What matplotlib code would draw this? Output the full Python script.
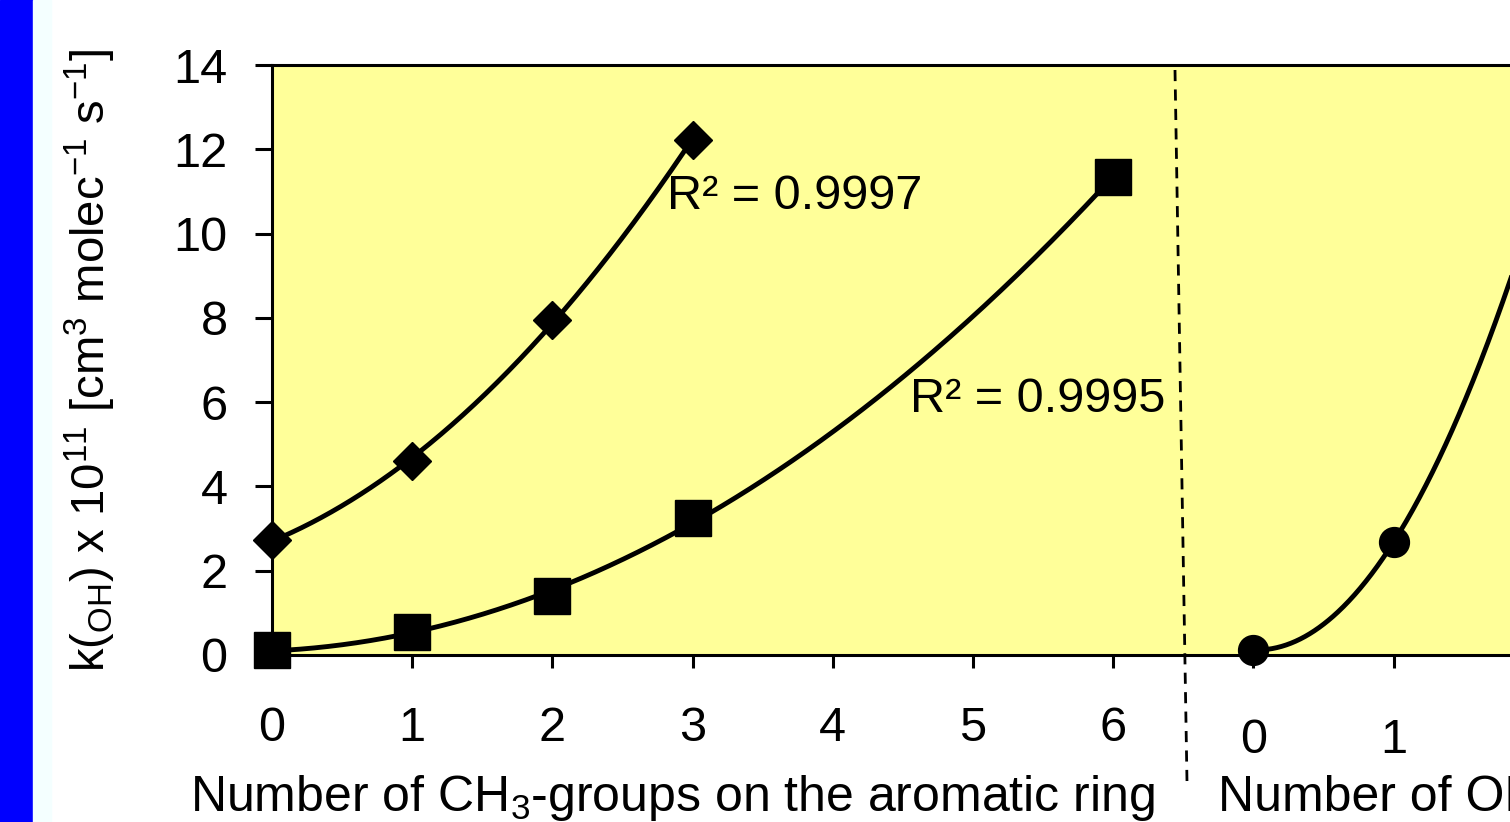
import numpy as np
import matplotlib
matplotlib.use("Agg")
import matplotlib.pyplot as plt
from matplotlib.transforms import blended_transform_factory
from matplotlib.patches import Rectangle
from matplotlib.lines import Line2D

plt.rcParams['font.family'] = ['Liberation Sans', 'DejaVu Sans']
plt.rcParams['mathtext.fontset'] = 'custom'
plt.rcParams['mathtext.rm'] = 'Liberation Sans'

# ---- data ----
ch3_groups_a = [0, 1, 2, 3]
k_diamond = [2.73, 4.6, 7.95, 12.22]
ch3_groups_b = [0, 1, 2, 3, 6]
k_square = [0.12, 0.55, 1.40, 3.25, 11.34]
oh_groups = [0, 1, 2]
k_circle = [0.12, 2.68, 10.6]
oh_offset = 7  # second group drawn to the right of the separator

ch3_ticks = [0, 1, 2, 3, 4, 5, 6]
oh_ticks = [0, 1, 2]
yticks = [0, 2, 4, 6, 8, 10, 12, 14]
r2_labels = ["R\u00b2 = 0.9997", "R\u00b2 = 0.9995"]

W, H = 1510, 822
fig = plt.figure(figsize=(W / 100, H / 100), dpi=100)
fig.patch.set_facecolor('white')

# blue side bar
fig.patches.append(Rectangle((0, 0), 33 / W, 1, transform=fig.transFigure,
                             color='#0000FF', zorder=0))
fig.patches.append(Rectangle((33 / W, 0), 18 / W, 1, transform=fig.transFigure,
                             color='#F4FFFF', zorder=0))

unit = 140.2
left_px, bottom_px, top_px = 272, 655, 65
xmax = 9.6
ax = fig.add_axes([left_px / W, 1 - bottom_px / H,
                   xmax * unit / W, (bottom_px - top_px) / H])
ax.set_facecolor('#FFFF99')
ax.set_xlim(0, xmax)
ax.set_ylim(0, 14)

fs = 35
lw = 3.5

def fit_curve(xs, ys, deg, x_shift=0):
    p = np.polyfit(xs, ys, deg)
    xx = np.linspace(min(xs), max(xs), 300)
    return xx + x_shift, np.polyval(p, xx)

cx, cy = fit_curve(ch3_groups_a, k_diamond, 2)
ax.plot(cx, cy, color='black', lw=lw, zorder=3, clip_on=False)
cx, cy = fit_curve(ch3_groups_b, k_square, 2)
ax.plot(cx, cy, color='black', lw=lw, zorder=3, clip_on=False)
cx, cy = fit_curve(oh_groups, k_circle, 2, oh_offset)
ax.plot(cx, cy, color='black', lw=lw, zorder=3)

ax.plot(ch3_groups_a, k_diamond, 'D', color='black', ms=19, ls='none', zorder=4,
        clip_on=False)
ax.plot(ch3_groups_b, k_square, 's', color='black', ms=26, ls='none', zorder=4,
        clip_on=False)
ax.plot(np.array(oh_groups) + oh_offset, k_circle, 'o', color='black', ms=21.5,
        ls='none', zorder=4, clip_on=False)

# axes styling
for s in ax.spines.values():
    s.set_linewidth(2.2)
ax.set_yticks(yticks)
ax.set_yticklabels([str(v) for v in yticks], fontsize=fs)
ax.tick_params(axis='y', direction='out', length=12, width=2.2, pad=20)
xt = ch3_ticks + [t + oh_offset for t in oh_ticks]
ax.set_xticks(xt)
ax.set_xticklabels([])
ax.tick_params(axis='x', direction='out', length=9, width=2.2)

trans = blended_transform_factory(ax.transData, fig.transFigure)
for t in ch3_ticks:
    ax.text(t, 1 - 728 / H, str(t), transform=trans, ha='center', va='center',
            fontsize=fs)
for t in oh_ticks:
    ax.text(t + oh_offset, 1 - 740 / H, str(t), transform=trans, ha='center',
            va='center', fontsize=fs)

fig.text(672 / W, 1 - 811 / H,
         r'Number of CH$_{\mathregular{3}}$-groups on the aromatic ring',
         ha='center', va='baseline', fontsize=36)
fig.text(1218 / W, 1 - 811 / H,
         'Number of OH-groups on the aromatic ring',
         ha='left', va='baseline', fontsize=36)

fig.text(90 / W, 1 - 360 / H,
         r'k($_{\mathregular{OH}}$) x 10$^{\mathregular{11}}$ [cm$^{\mathregular{3}}$ '
         r'molec$^{\mathregular{-1}}$ s$^{\mathregular{-1}}$]',
         rotation=90, ha='center', va='center', fontsize=34)

# R^2 labels
fig.text(667 / W, 1 - 209 / H, r2_labels[0], ha='left', va='baseline', fontsize=fs)
fig.text(910 / W, 1 - 412 / H, r2_labels[1], ha='left', va='baseline', fontsize=fs)

# dashed separator (slightly slanted)
fig.add_artist(Line2D([1175 / W, 1187 / W], [1 - 70 / H, 1 - 782 / H],
                      transform=fig.transFigure, color='black', lw=2,
                      ls=(0, (4, 3)), zorder=5))

fig.savefig('out.png', dpi=100)
